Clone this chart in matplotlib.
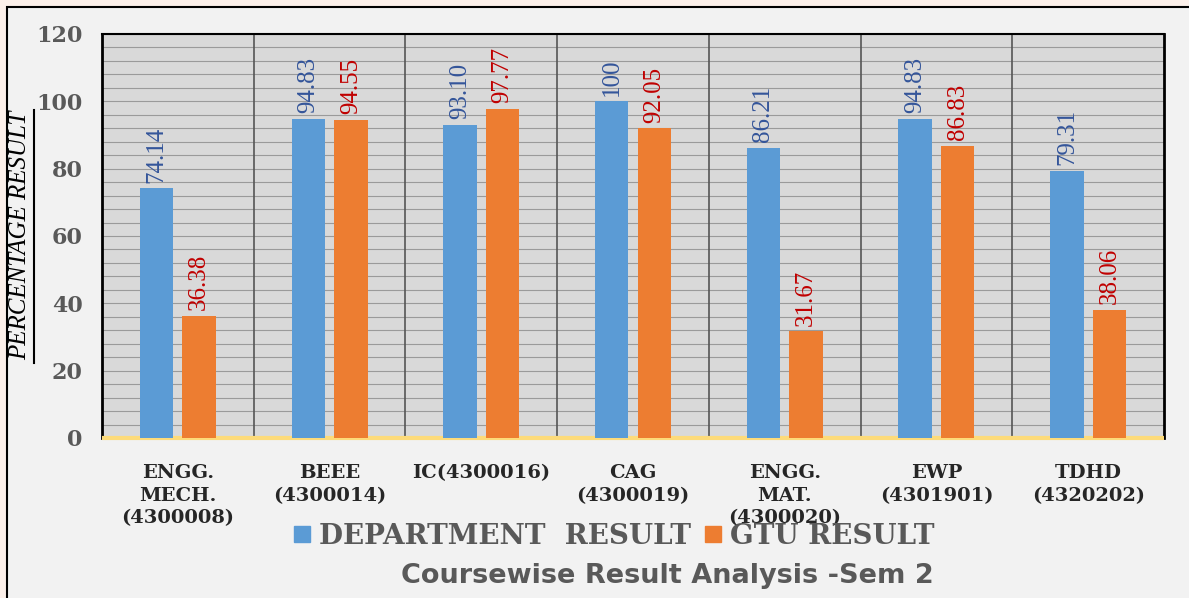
import numpy as np
import matplotlib.pyplot as plt
from matplotlib.lines import Line2D
from matplotlib.patches import Rectangle

courses = ['ENGG.\nMECH.\n(4300008)', 'BEEE\n(4300014)', 'IC(4300016)',
           'CAG\n(4300019)', 'ENGG.\nMAT.\n(4300020)', 'EWP\n(4301901)',
           'TDHD\n(4320202)']
dept_result = [74.14, 94.83, 93.10, 100, 86.21, 94.83, 79.31]
dept_labels = ['74.14', '94.83', '93.10', '100', '86.21', '94.83', '79.31']
gtu_result = [36.38, 94.55, 97.77, 92.05, 31.67, 86.83, 38.06]
gtu_labels = ['36.38', '94.55', '97.77', '92.05', '31.67', '86.83', '38.06']

W, H = 1189, 598
fig = plt.figure(figsize=(W / 100, H / 100), dpi=100, facecolor='#fcf0ea')

# inner panel with black frame on left/top
fig.patches.append(Rectangle((7 / W, -0.05), 1.1, (H - 7) / H + 0.05,
                             transform=fig.transFigure, facecolor='#f2f2f2',
                             edgecolor='black', lw=1.5, zorder=-10))

ax = fig.add_axes([102 / W, 1 - 438 / H, (1164 - 102) / W, (438 - 34) / H])
ax.set_facecolor('#d9d9d9')

x = np.arange(len(courses))
bw = 0.22
off = 0.14
b1 = ax.bar(x - off, dept_result, bw, color='#5b9bd5', zorder=3)
b2 = ax.bar(x + off, gtu_result, bw, color='#ed7d31', zorder=3)

for rect, lab in zip(b1, dept_labels):
    ax.annotate(lab, (rect.get_x() + rect.get_width() / 2, rect.get_height()),
                xytext=(0, 4), textcoords='offset points', rotation=90,
                ha='center', va='bottom', fontsize=18, color='#34559a',
                family='Liberation Serif')
for rect, lab in zip(b2, gtu_labels):
    ax.annotate(lab, (rect.get_x() + rect.get_width() / 2, rect.get_height()),
                xytext=(0, 4), textcoords='offset points', rotation=90,
                ha='center', va='bottom', fontsize=18, color='#c00000',
                family='Liberation Serif')

ax.set_ylim(0, 120)
ax.set_xlim(-0.5, len(courses) - 0.5)
ax.set_yticks(np.arange(0, 121, 20))
ax.set_yticks(np.arange(0, 121, 4), minor=True)
ax.grid(axis='y', which='both', color='#9a9a9a', lw=0.8, zorder=1)
for xv in np.arange(0.5, len(courses) - 0.5, 1):
    ax.axvline(xv, color='#555555', lw=1.2, zorder=2)

ax.set_xticks(x)
ax.set_xticklabels(courses, family='DejaVu Serif', fontweight='bold',
                   fontsize=14, color='#262626', linespacing=1.3)
for t in ax.get_yticklabels():
    t.set_family('DejaVu Serif')
    t.set_fontweight('bold')
    t.set_fontsize(16)
    t.set_color('#595959')
ax.tick_params(axis='y', which='both', length=0, pad=14)
ax.tick_params(axis='x', length=0, pad=19)

for s in ['left', 'right']:
    ax.spines[s].set_linewidth(2)
    ax.spines[s].set_color('black')
ax.spines['top'].set_linewidth(1.5)
ax.spines['bottom'].set_color('#fddb7a')
ax.spines['bottom'].set_linewidth(3)
ax.spines['bottom'].set_capstyle('butt')

# y label with underline
fig.text(20 / W, 1 - 235 / H, 'PERCENTAGE RESULT', rotation=90, ha='center',
         va='center', fontsize=18, style='italic', family='Liberation Serif',
         color='black')
fig.add_artist(Line2D([34 / W, 34 / W], [1 - 363 / H, 1 - 110 / H],
                      transform=fig.transFigure, color='black', lw=1.5))

handles = [Line2D([], [], marker='s', ls='', color='#5b9bd5', markersize=11),
           Line2D([], [], marker='s', ls='', color='#ed7d31', markersize=11)]
leg = fig.legend(handles, ['DEPARTMENT  RESULT', 'GTU RESULT'],
                 loc='center', bbox_to_anchor=(614 / W, 1 - 536 / H), ncol=2,
                 frameon=False, handlelength=0.6, handletextpad=0.3,
                 columnspacing=0.5,
                 prop={'family': 'DejaVu Serif', 'weight': 'bold', 'size': 20})
for t in leg.get_texts():
    t.set_color('#595959')

fig.text(667 / W, 1 - 576 / H, 'Coursewise Result Analysis -Sem 2',
         ha='center', va='center', fontsize=19.5, fontweight='bold',
         family='DejaVu Sans', color='#595959')

fig.savefig('out.png', dpi=100, facecolor=fig.get_facecolor())
